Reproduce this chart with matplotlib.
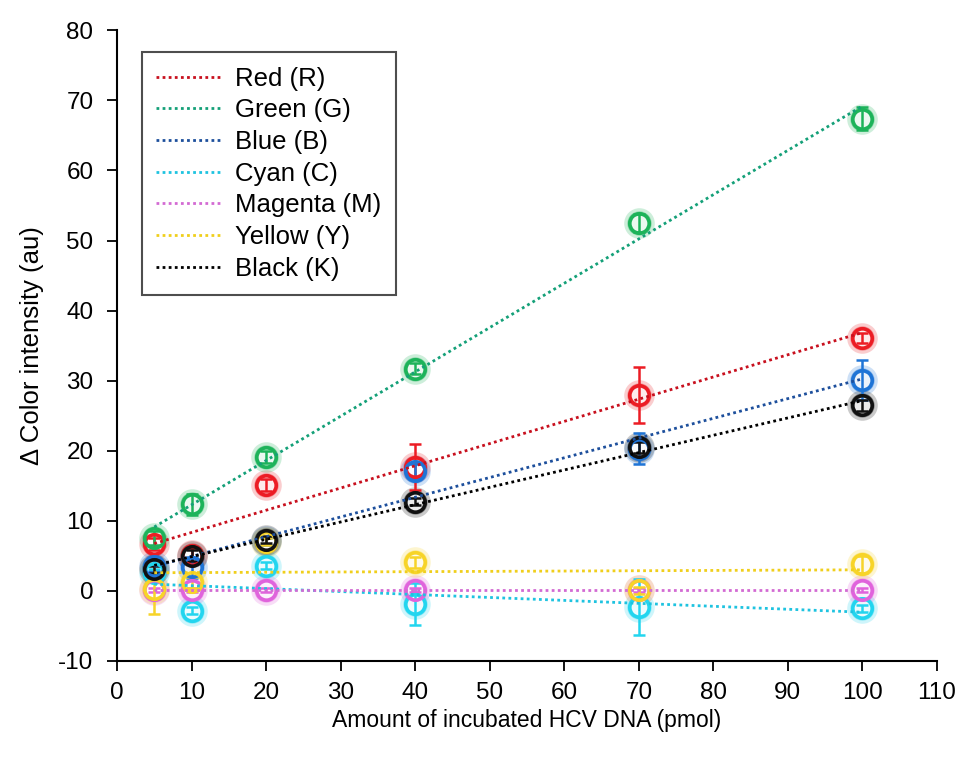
import numpy as np
import matplotlib
matplotlib.use("Agg")
import matplotlib.pyplot as plt

plt.rcParams['font.family'] = ['Liberation Sans', 'DejaVu Sans']
plt.rcParams['axes.unicode_minus'] = False

# HCV DNA amounts (pmol)
amount = [5, 10, 20, 40, 70, 100]

# Mean change in colour intensity per channel, with standard deviations
red = [6.7, 5.1, 15.1, 17.7, 28.0, 36.1]
red_err = [0.8, 1.0, 0.8, 3.3, 4.0, 0.7]
green = [7.6, 12.4, 19.1, 31.7, 52.5, 67.4]
green_err = [1.0, 1.5, 0.8, 0.8, 1.3, 1.6]
blue = [3.6, 3.4, 7.1, 17.1, 20.3, 30.1]
blue_err = [0.8, 1.5, 0.5, 1.0, 2.2, 2.9]
cyan = [2.6, -2.8, 3.6, -1.9, -2.3, -2.5]
cyan_err = [0.5, 0.5, 0.5, 3.0, 4.0, 0.5]
magenta = [0.1, 0.1, 0.1, 0.1, 0.1, 0.1]
magenta_err = [0.3, 0.3, 0.3, 0.3, 0.3, 0.3]
yellow = [0.3, 1.2, 7.0, 4.1, 0.1, 3.8]
yellow_err = [3.6, 0.8, 0.5, 0.8, 0.5, 1.2]
black = [3.1, 5.0, 7.3, 12.7, 20.5, 26.5]
black_err = [0.5, 0.8, 0.5, 0.5, 0.8, 0.8]

labels = ['Red (R)', 'Green (G)', 'Blue (B)', 'Cyan (C)',
          'Magenta (M)', 'Yellow (Y)', 'Black (K)']
series = [red, green, blue, cyan, magenta, yellow, black]
errors = [red_err, green_err, blue_err, cyan_err, magenta_err, yellow_err, black_err]
marker_colors = ['#ec1c24', '#1db35a', '#1e74d6', '#22d5ef',
                 '#e063dc', '#f7d428', '#111111']
line_colors = ['#c8101e', '#14a078', '#1d4f9c', '#1ec3e0',
               '#d36ad3', '#f0cf1c', '#000000']

fig = plt.figure(figsize=(9.67, 7.58), dpi=100)
ax = fig.add_axes([0.121, 0.128, 0.848, 0.832])

x = np.array(amount, dtype=float)
xfit = np.array([5.0, 100.0])
handles = []
for vals, err, mc, lc, lab in zip(series, errors, marker_colors, line_colors, labels):
    y = np.array(vals, dtype=float)
    # soft glow around each point
    ax.plot(x, y, 'o', ms=22, color=mc, alpha=0.22, mec='none', zorder=2)
    ax.plot(x, y, 'o', ms=17.5, color=mc, alpha=0.4, mec='none', zorder=2)
    ax.plot(x, y, 'o', ms=12, mfc='white', mec='none', alpha=0.85, zorder=3)
    ax.errorbar(x, y, yerr=err, fmt='none', ecolor=mc, elinewidth=1.8,
                capsize=4.5, capthick=1.8, zorder=4)
    ax.plot(x, y, 'o', ms=14, mfc='none', mec=mc, mew=2.6, zorder=5)
    slope, icpt = np.polyfit(x, y, 1)
    h, = ax.plot(xfit, slope * xfit + icpt, linestyle=(0, (1, 1.2)), lw=2.0,
                 color=lc, zorder=6, label=lab)
    handles.append(h)

ax.set_xlim(0, 110)
ax.set_ylim(-10, 80)
ax.set_xticks(np.arange(0, 111, 10))
ax.set_yticks(np.arange(-10, 81, 10))
ax.tick_params(axis='both', labelsize=17.5, direction='out', length=7, width=1.3)
ax.tick_params(axis='y', pad=10)
ax.tick_params(axis='x', pad=8)
for side in ('top', 'right'):
    ax.spines[side].set_visible(False)
for side in ('left', 'bottom'):
    ax.spines[side].set_linewidth(1.5)

ax.set_xlabel('Amount of incubated HCV DNA (pmol)', fontsize=16.5, labelpad=4)
ax.set_ylabel('\u0394 Color intensity (au)', fontsize=18.5, labelpad=10)

leg = ax.legend(handles=handles, loc='upper left', bbox_to_anchor=(0.030, 0.965),
                fontsize=18.5, frameon=True, fancybox=False, edgecolor='#222222',
                handlelength=2.5, handletextpad=0.6, labelspacing=0.3,
                borderpad=0.55, borderaxespad=0)
leg.get_frame().set_linewidth(1.5)

fig.savefig('out.png', dpi=100)
